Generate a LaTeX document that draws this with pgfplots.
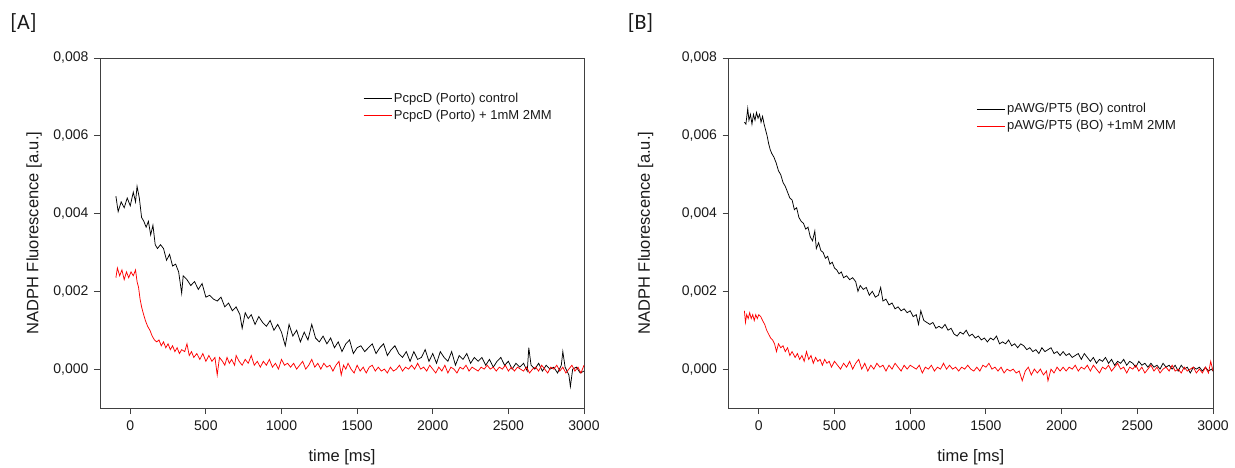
\documentclass[border=0pt]{standalone}
\usepackage{fontspec}
\setmainfont{Liberation Sans}
\newfontfamily\calibri{Carlito}
\usepackage{pgfplots}
\pgfplotsset{compat=1.18}
\definecolor{axgray}{HTML}{404040}
\definecolor{txt}{HTML}{1A1A1A}
\pgfplotsset{
  myax/.style={
    scale only axis, height=350pt,
    xmin=-200, xmax=3000, ymin=-0.001, ymax=0.008,
    xtick={0,500,1000,1500,2000,2500,3000},
    ytick={0,0.002,0.004,0.006,0.008},
    scaled y ticks=false, scaled x ticks=false,
    tick align=outside, tick pos=left, major tick length=6pt,
    axis line style={axgray, line width=0.9pt},
    every tick/.style={axgray, line width=0.9pt},
    /pgf/number format/assume math mode=true,
    xticklabel style={font=\fontsize{14}{16}\selectfont, text=txt, yshift=-3pt, /pgf/number format/1000 sep={}},
    yticklabel style={font=\fontsize{14}{16}\selectfont, text=txt, xshift=-2pt,
      /pgf/number format/.cd, fixed, fixed zerofill, precision=3, use comma},
    xlabel style={font=\fontsize{16.5}{18}\selectfont, text=txt, at={(axis description cs:0.5,-0.14)}, anchor=center},
    ylabel style={font=\fontsize{16.5}{18}\selectfont, text=txt, anchor=center},
    xlabel={time [ms]},
    ylabel={NADPH Fluorescence [a.u.]},
    legend cell align=left,
    legend style={draw=none, fill=none, anchor=north west, row sep=1.5pt,
      font=\fontsize{13}{14}\selectfont, text=txt,
      nodes={text height=9pt, text depth=2.5pt, inner sep=2pt}},
    legend image code/.code={\draw[#1, line width=0.8pt] (0pt,0pt) -- (28pt,0pt);},
    clip=true,
  }
}
\begin{document}
\begin{tikzpicture}
\path[use as bounding box] (0pt,0pt) rectangle (1235pt,467pt);
\node[font=\calibri\fontsize{22}{24}\selectfont, text=txt] at (23.5pt,443.5pt) {[A]};
\node[font=\calibri\fontsize{22}{24}\selectfont, text=txt] at (640.5pt,443.5pt) {[B]};

\begin{axis}[myax, at={(100pt,59pt)}, anchor=south west, width=484pt,
  ylabel style={at={(axis description cs:-0.136,0.5)}},
  legend style={at={(axis description cs:0.537,0.912)}}]
\addplot[black, line width=0.75pt] table {
-95 44.5e-4
-80 40.5e-4
-60 43e-4
-40 41.5e-4
-20 44e-4
0 42e-4
20 45.5e-4
35 43e-4
45 47e-4
60 44e-4
75 39e-4
90 38e-4
105 36.5e-4
120 38e-4
135 34.5e-4
150 37e-4
165 32e-4
180 31e-4
200 32e-4
220 31e-4
240 28e-4
260 29.5e-4
280 26.5e-4
300 27e-4
320 25e-4
340 19.5e-4
350 24e-4
375 23e-4
400 21.5e-4
425 22.5e-4
450 20.5e-4
475 22e-4
500 18.5e-4
525 19e-4
550 18e-4
575 17.5e-4
600 18.5e-4
625 16e-4
650 17e-4
675 15e-4
700 16e-4
725 14e-4
740 10.5e-4
760 14.5e-4
780 13e-4
800 14e-4
825 11.5e-4
850 13.5e-4
875 12e-4
900 11e-4
925 12.5e-4
950 10e-4
975 11.5e-4
1000 9.5e-4
1025 6e-4
1050 11.5e-4
1075 8.5e-4
1100 10e-4
1125 7e-4
1150 9.5e-4
1175 7.5e-4
1200 11.5e-4
1225 8e-4
1250 7e-4
1275 8.5e-4
1300 6.5e-4
1325 8e-4
1350 5.5e-4
1375 7e-4
1400 4.5e-4
1425 6.5e-4
1450 7.5e-4
1475 4e-4
1500 5.5e-4
1525 6e-4
1550 4.5e-4
1575 5.5e-4
1600 6.5e-4
1625 4e-4
1650 5.5e-4
1675 6.5e-4
1700 3.5e-4
1725 5e-4
1750 6e-4
1775 4e-4
1800 3e-4
1825 4.5e-4
1850 2e-4
1875 4.5e-4
1900 2.5e-4
1925 3e-4
1950 5e-4
1975 2e-4
2000 4e-4
2025 1.5e-4
2050 4.5e-4
2075 3e-4
2100 2e-4
2125 4.5e-4
2150 1e-4
2175 3.5e-4
2200 2.5e-4
2225 4e-4
2250 1.5e-4
2275 3e-4
2300 2e-4
2325 3e-4
2350 1e-4
2375 2.5e-4
2400 0.5e-4
2425 2e-4
2450 3e-4
2475 1e-4
2500 2e-4
2525 0e-4
2550 1.5e-4
2575 0.5e-4
2600 1.5e-4
2625 -0.5e-4
2635 5.5e-4
2650 1e-4
2675 0e-4
2700 1.5e-4
2725 -0.5e-4
2750 1e-4
2775 0e-4
2800 0.5e-4
2825 -1e-4
2850 1e-4
2860 4.5e-4
2875 0.5e-4
2900 -1.5e-4
2910 -4.5e-4
2925 0e-4
2950 0.5e-4
2975 -1e-4
3000 -0.5e-4
};
\addlegendentry{PcpcD (Porto) control}
\addplot[red, line width=0.75pt] table {
-95 23.5e-4
-85 26e-4
-70 24e-4
-55 25.5e-4
-40 23e-4
-25 25e-4
-10 23.5e-4
5 25e-4
20 24e-4
35 25.5e-4
45 22.5e-4
55 21e-4
65 18e-4
75 16e-4
85 14.5e-4
100 12.5e-4
115 11e-4
130 10e-4
145 8.5e-4
160 7.5e-4
175 7e-4
190 7.5e-4
205 6e-4
220 7e-4
235 5.5e-4
250 6.5e-4
265 5e-4
280 6e-4
295 4.5e-4
310 5.5e-4
325 4e-4
340 5e-4
360 4.5e-4
375 6.5e-4
390 3.5e-4
405 4.5e-4
420 3e-4
440 4e-4
460 2.5e-4
480 4e-4
500 2e-4
520 3.5e-4
540 2e-4
560 3e-4
575 -1.5e-4
590 3e-4
610 2e-4
625 1e-4
640 3e-4
655 1.5e-4
670 2.5e-4
690 1e-4
700 3.5e-4
720 2e-4
740 1e-4
760 2.5e-4
780 1.5e-4
800 3.5e-4
820 1e-4
840 2e-4
860 0.5e-4
880 2e-4
900 1e-4
920 2.5e-4
940 0.5e-4
960 1.5e-4
980 0e-4
1000 2.5e-4
1020 1e-4
1040 1.5e-4
1060 0.5e-4
1080 1.5e-4
1100 0e-4
1120 1e-4
1140 2e-4
1160 0e-4
1180 1e-4
1200 2.5e-4
1220 0.5e-4
1240 1.5e-4
1260 0e-4
1280 1.5e-4
1300 0.5e-4
1320 1e-4
1340 -0.5e-4
1360 1e-4
1380 2e-4
1395 -1.5e-4
1410 1e-4
1425 0e-4
1440 1.5e-4
1460 0e-4
1480 -1e-4
1500 1e-4
1520 -0.5e-4
1540 0.5e-4
1560 -1e-4
1580 0.5e-4
1600 1e-4
1620 -0.5e-4
1640 0.5e-4
1660 -0.5e-4
1680 0e-4
1700 -1e-4
1720 0.5e-4
1740 -0.5e-4
1760 0e-4
1780 1e-4
1800 -0.5e-4
1820 0.5e-4
1840 0e-4
1860 1e-4
1880 0e-4
1900 1.5e-4
1920 0e-4
1940 0.5e-4
1960 -0.5e-4
1980 1e-4
2000 0e-4
2020 -1e-4
2040 0.5e-4
2060 -0.5e-4
2080 1e-4
2100 -1e-4
2120 0.5e-4
2140 0e-4
2160 -1e-4
2180 0.5e-4
2200 0e-4
2220 1e-4
2240 -0.5e-4
2260 0.5e-4
2280 0e-4
2300 -0.5e-4
2320 0.5e-4
2340 0e-4
2360 1e-4
2380 0e-4
2400 0.5e-4
2420 -0.5e-4
2440 0.5e-4
2460 0e-4
2480 1e-4
2500 -0.5e-4
2520 0.5e-4
2540 -0.5e-4
2560 0.5e-4
2580 0e-4
2600 -0.5e-4
2620 0.5e-4
2640 -1e-4
2660 0e-4
2680 0.5e-4
2700 -0.5e-4
2720 1e-4
2740 0e-4
2760 -1e-4
2780 0.5e-4
2800 0e-4
2820 1e-4
2840 -0.5e-4
2860 0.5e-4
2880 -1e-4
2900 0e-4
2920 1e-4
2940 -0.5e-4
2960 0.5e-4
2980 -1e-4
3000 1e-4
};
\addlegendentry{PcpcD (Porto) + 1mM 2MM}
\end{axis}

\begin{axis}[myax, at={(728.5pt,59pt)}, anchor=south west, width=484.5pt,
  ylabel style={at={(axis description cs:-0.171,0.5)}},
  legend style={at={(axis description cs:0.505,0.882)}}]
\addplot[black, line width=0.75pt] table {
-95 63.5e-4
-85 63e-4
-73 67e-4
-65 64e-4
-55 65.5e-4
-45 63e-4
-35 65.5e-4
-25 64e-4
-15 66e-4
-5 64.5e-4
5 65.5e-4
15 63.5e-4
25 65e-4
35 63e-4
45 61.5e-4
55 60e-4
65 58e-4
75 56.5e-4
85 55.5e-4
100 54.5e-4
115 53e-4
130 51e-4
145 50e-4
160 48e-4
175 47e-4
190 45.5e-4
205 44e-4
220 43.5e-4
235 41e-4
250 41.5e-4
265 39e-4
280 38e-4
295 37.5e-4
310 36e-4
325 36.5e-4
340 34e-4
355 33e-4
370 35.5e-4
380 31e-4
395 32.5e-4
410 30.5e-4
425 30e-4
440 28.5e-4
455 29e-4
470 27e-4
485 27.5e-4
500 26e-4
515 25.5e-4
530 24.5e-4
545 25e-4
560 23.5e-4
580 24e-4
600 23e-4
620 23.5e-4
640 22.5e-4
655 20e-4
670 21.5e-4
690 20.5e-4
710 21e-4
730 19e-4
750 20e-4
770 18.5e-4
790 19e-4
805 21e-4
820 17.5e-4
840 18e-4
860 16.5e-4
880 17e-4
900 15.5e-4
920 16e-4
940 15e-4
960 15.5e-4
980 14.5e-4
1000 15e-4
1020 13.5e-4
1040 14e-4
1055 11.5e-4
1070 15e-4
1090 12.5e-4
1110 12e-4
1130 11.5e-4
1150 12e-4
1170 10.5e-4
1190 11e-4
1210 10.5e-4
1230 11.5e-4
1250 10e-4
1270 10.5e-4
1290 9e-4
1310 8.5e-4
1330 9.5e-4
1350 9e-4
1370 10e-4
1390 8.5e-4
1410 9e-4
1430 8e-4
1450 8.5e-4
1470 7.5e-4
1490 8e-4
1510 7e-4
1530 8e-4
1550 7.5e-4
1570 8.5e-4
1590 6.5e-4
1610 7e-4
1630 6.5e-4
1650 7.5e-4
1670 6e-4
1690 6.5e-4
1710 5.5e-4
1730 6.5e-4
1750 6e-4
1770 5e-4
1790 5.5e-4
1810 4.5e-4
1830 5e-4
1850 4e-4
1870 5.5e-4
1890 4.5e-4
1910 5e-4
1930 5.5e-4
1950 4e-4
1970 4.5e-4
1990 3.5e-4
2010 4.5e-4
2030 3.5e-4
2050 4e-4
2070 3e-4
2090 3.5e-4
2110 4e-4
2130 2.5e-4
2150 4e-4
2170 3e-4
2190 2e-4
2210 3e-4
2230 1.5e-4
2250 2.5e-4
2270 2e-4
2290 3e-4
2310 1.5e-4
2330 2.5e-4
2350 1e-4
2370 2e-4
2390 1.5e-4
2410 2.5e-4
2430 1e-4
2450 2e-4
2470 1.5e-4
2490 0.5e-4
2510 2e-4
2530 1e-4
2550 1.5e-4
2570 0.5e-4
2590 1.5e-4
2610 0.5e-4
2630 1e-4
2650 0e-4
2670 1.5e-4
2690 0.5e-4
2710 1e-4
2730 0e-4
2750 1e-4
2770 -0.5e-4
2790 1e-4
2810 0e-4
2830 0.5e-4
2850 -1e-4
2870 0.5e-4
2890 0e-4
2910 0.5e-4
2930 -0.5e-4
2950 0.5e-4
2970 -0.5e-4
2990 0e-4
3000 -0.5e-4
};
\addlegendentry{pAWG/PT5 (BO) control}
\addplot[red, line width=0.75pt] table {
-95 15e-4
-88 12e-4
-80 14e-4
-70 13e-4
-60 14.5e-4
-50 13e-4
-40 14e-4
-30 12.5e-4
-20 14e-4
-10 13e-4
0 14e-4
13 13.5e-4
25 12.5e-4
39 11.5e-4
52 10e-4
65 9e-4
78 8e-4
91 7.5e-4
104 6.5e-4
117 4.5e-4
130 6.5e-4
145 5.5e-4
160 6e-4
175 4.5e-4
190 5.5e-4
205 3.5e-4
220 4.5e-4
240 3e-4
255 4e-4
270 2.5e-4
285 3.5e-4
300 2e-4
315 4.5e-4
330 2.5e-4
345 3.5e-4
360 1.5e-4
375 3e-4
390 2e-4
405 2.5e-4
420 1e-4
435 2.5e-4
450 1.5e-4
465 2e-4
480 0.5e-4
500 2e-4
520 1e-4
540 0e-4
560 1.5e-4
580 0.5e-4
600 2e-4
620 0e-4
640 1.5e-4
660 2.5e-4
680 0e-4
700 1.5e-4
720 -0.5e-4
740 1e-4
760 0e-4
780 1.5e-4
800 0.5e-4
820 1e-4
840 -0.5e-4
860 1e-4
880 0e-4
900 1.5e-4
920 0.5e-4
940 -0.5e-4
960 1e-4
980 0e-4
1000 1e-4
1020 0.5e-4
1040 0e-4
1060 1e-4
1080 -1e-4
1100 0.5e-4
1120 0e-4
1140 1e-4
1160 -0.5e-4
1180 0.5e-4
1200 0e-4
1220 1.5e-4
1240 0e-4
1260 1e-4
1280 0e-4
1300 0.5e-4
1320 -0.5e-4
1340 0.5e-4
1360 0e-4
1380 1e-4
1400 0e-4
1420 -0.5e-4
1440 0.5e-4
1460 -0.5e-4
1480 1e-4
1500 0.5e-4
1520 1.5e-4
1540 0e-4
1560 0.5e-4
1580 -0.5e-4
1600 0.5e-4
1620 -1e-4
1640 0e-4
1660 -0.5e-4
1680 0e-4
1700 -1e-4
1720 -0.5e-4
1740 -3e-4
1760 -0.5e-4
1780 0.5e-4
1800 -1.5e-4
1820 0e-4
1840 -1e-4
1860 0e-4
1880 -1.5e-4
1900 -0.5e-4
1910 -3e-4
1930 0e-4
1950 -1e-4
1970 0.5e-4
1990 -0.5e-4
2010 0.5e-4
2030 -0.5e-4
2050 0.5e-4
2070 0e-4
2090 1e-4
2110 -0.5e-4
2130 0.5e-4
2150 0e-4
2170 1e-4
2190 -0.5e-4
2210 1e-4
2230 0e-4
2250 -1e-4
2270 0.5e-4
2290 0e-4
2310 1e-4
2330 -0.5e-4
2350 0.5e-4
2370 1.5e-4
2390 0e-4
2410 0.5e-4
2430 -1e-4
2450 0.5e-4
2470 0e-4
2490 1e-4
2510 -0.5e-4
2530 0.5e-4
2550 -1e-4
2570 0e-4
2590 1e-4
2610 -0.5e-4
2630 0.5e-4
2650 -1e-4
2670 0e-4
2690 0.5e-4
2710 -0.5e-4
2730 1e-4
2750 -0.5e-4
2770 0e-4
2790 -1e-4
2810 0.5e-4
2830 -0.5e-4
2850 0e-4
2870 0.5e-4
2890 -1e-4
2910 0e-4
2930 -1e-4
2950 0.5e-4
2970 -1e-4
2985 2e-4
3000 -0.5e-4
};
\addlegendentry{pAWG/PT5 (BO) +1mM 2MM}
\end{axis}
\end{tikzpicture}
\end{document}
